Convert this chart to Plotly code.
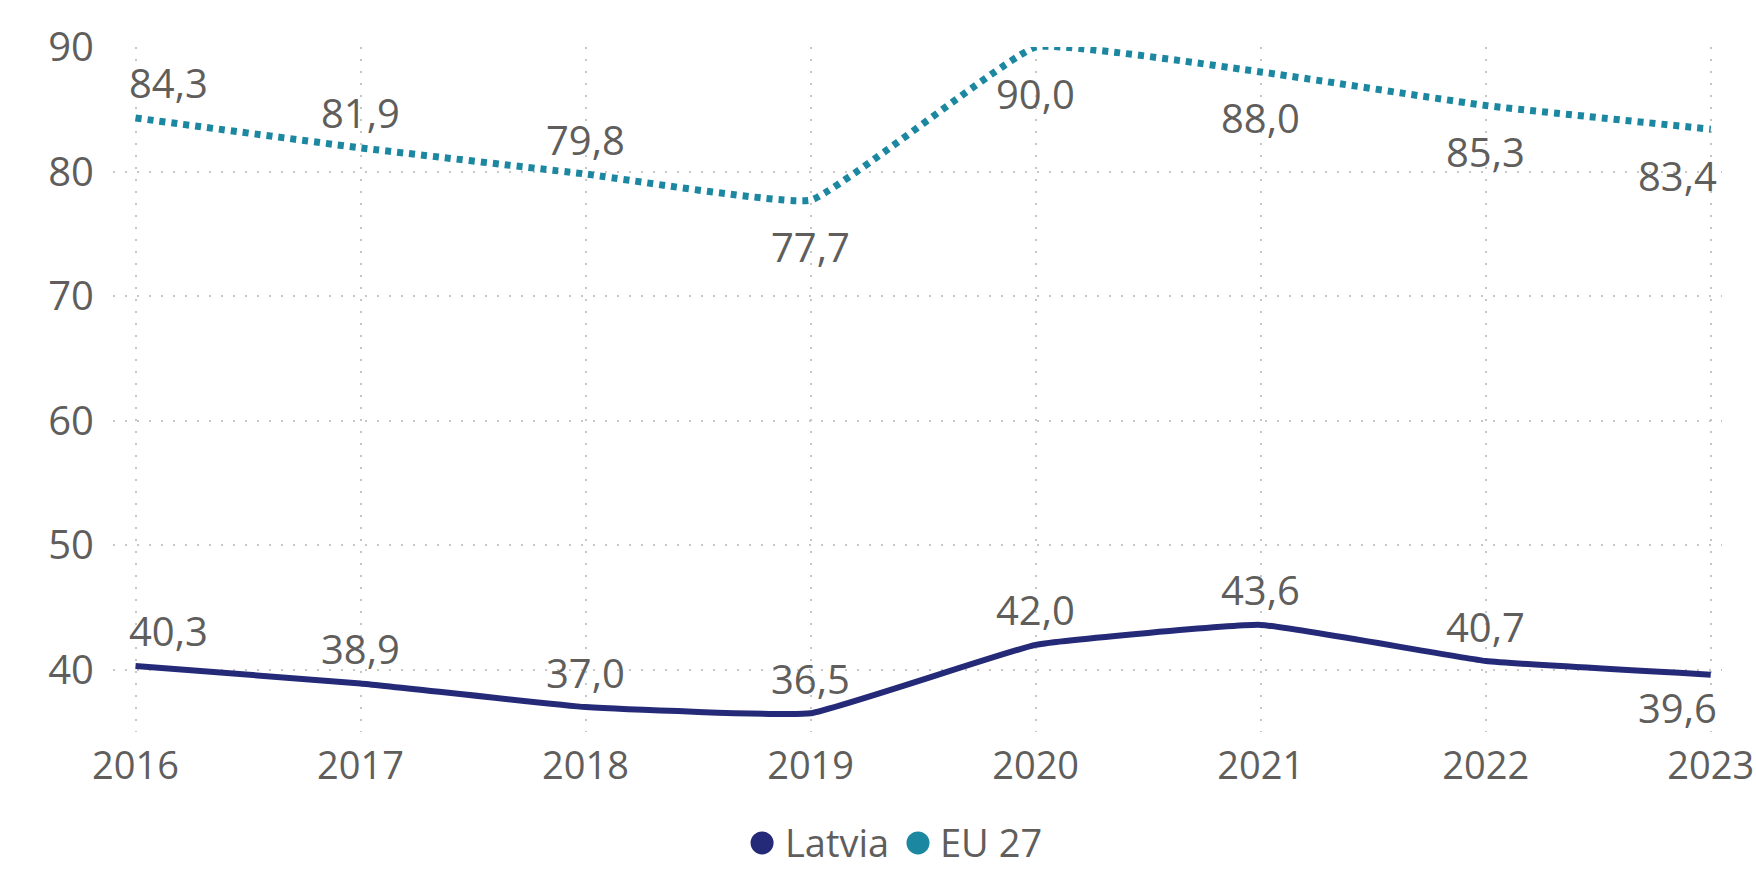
import plotly.graph_objects as go

years = [2016, 2017, 2018, 2019, 2020, 2021, 2022, 2023]
latvia = [40.3, 38.9, 37.0, 36.5, 42.0, 43.6, 40.7, 39.6]
eu27 = [84.3, 81.9, 79.8, 77.7, 90.0, 88.0, 85.3, 83.4]
y_ticks = [40, 50, 60, 70, 80, 90]
series_names = ["Latvia", "EU 27"]

# styling
latvia_color = "#252A78"
eu_color = "#1B87A0"
text_color = "#605E5C"
grid_color = "#C8C6C4"
font_family = "Open Sans, Noto Sans, DejaVu Sans, sans-serif"
fs = 39

# label vertical offsets in pixels (positive = above the point)
latvia_label_shift = [35, 35, 35, 35, 35, 35, 35, -33]
eu_label_shift = [35, 35, 35, -46, -46, -46, -46, -46]


def fmt(v):
    return f"{v:.1f}".replace(".", ",")


fig = go.Figure()

fig.add_trace(go.Scatter(
    x=years, y=eu27, mode="lines", name=series_names[1], showlegend=False,
    line=dict(color=eu_color, width=7, dash="6px,6px", shape="spline", smoothing=0.3),
    cliponaxis=False, hoverinfo="skip",
))
fig.add_trace(go.Scatter(
    x=years, y=latvia, mode="lines", name=series_names[0], showlegend=False,
    line=dict(color=latvia_color, width=6, shape="spline", smoothing=0.3),
    cliponaxis=False, hoverinfo="skip",
))

annotations = []
for series, shifts in ((eu27, eu_label_shift), (latvia, latvia_label_shift)):
    for i, (x, v) in enumerate(zip(years, series)):
        xshift = 0
        if i == 0:
            xshift = 33
        elif i == len(years) - 1:
            xshift = -33
        annotations.append(dict(
            x=x, y=v, xref="x", yref="y", text=fmt(v), showarrow=False,
            xanchor="center", yanchor="middle", xshift=xshift, yshift=shifts[i],
            font=dict(size=fs + 1, color=text_color, family=font_family),
        ))

# manual legend (circle + label), placed below the plot area
legend_y = -0.162
legend_items = [(series_names[0], latvia_color, 0.4034, 0.4164),
                (series_names[1], eu_color, 0.5003, 0.5130)]
shapes = []
for name, color, cx, tx in legend_items:
    shapes.append(dict(
        type="circle", xref="paper", yref="paper", xsizemode="pixel", ysizemode="pixel",
        xanchor=cx, yanchor=legend_y, x0=-11.5, x1=11.5, y0=-11.5, y1=11.5,
        fillcolor=color, line=dict(width=0),
    ))
    annotations.append(dict(
        x=tx, y=legend_y, xref="paper", yref="paper", text=name, showarrow=False,
        xanchor="left", yanchor="middle", yshift=1,
        font=dict(size=fs - 1, color=text_color, family=font_family),
    ))

fig.update_layout(
    width=1756, height=869,
    margin=dict(l=113, r=34, t=47, b=137, autoexpand=False),
    paper_bgcolor="white", plot_bgcolor="white",
    font=dict(family=font_family, size=fs, color=text_color),
    annotations=annotations,
    shapes=shapes,
    showlegend=False,
)
fig.update_xaxes(
    range=[2015.9, 2023.05], tickmode="array", tickvals=years,
    ticktext=[str(y) for y in years], automargin=False,
    showgrid=True, gridcolor=grid_color, gridwidth=2, griddash="2px,10px",
    zeroline=False, showline=False, ticks="", ticklabelstandoff=8,
    ticklabeloverflow="allow",
    tickfont=dict(size=fs - 1, color=text_color),
)
fig.update_yaxes(
    range=[35, 90], tickmode="array", tickvals=y_ticks, automargin=False,
    showgrid=True, gridcolor=grid_color, gridwidth=2, griddash="2px,10px",
    zeroline=False, showline=False, ticks="", ticklabelstandoff=18,
    tickfont=dict(size=fs + 1, color=text_color),
)

fig.write_html("out.html", config={"displayModeBar": False},
               post_script="document.body.style.margin='0';")
